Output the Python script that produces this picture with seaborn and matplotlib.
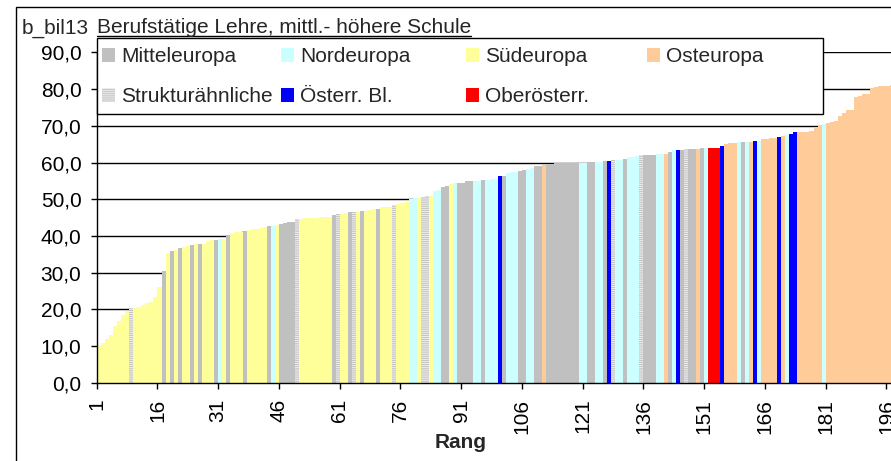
import matplotlib
matplotlib.use("Agg")
import matplotlib.pyplot as plt
from matplotlib.patches import Rectangle
from matplotlib.lines import Line2D
import numpy as np
import pandas as pd
import seaborn as sns

# values per rank (sorted ascending)
values = [
    10.2, 10.8, 11.8, 13.1, 15.5, 16.8, 18.4, 19.5, 20.0, 20.3,
    20.5, 21.3, 21.8, 22.0, 23.4, 26.1, 30.4, 35.4, 36.0, 36.3,
    36.7, 37.0, 37.2, 37.6, 37.7, 37.8, 37.9, 38.6, 38.8, 38.9,
    39.1, 39.2, 40.2, 40.8, 41.1, 41.2, 41.3, 41.7, 41.8, 42.0,
    42.1, 42.4, 42.7, 42.8, 43.0, 43.3, 43.5, 43.7, 43.9, 44.6,
    44.7, 44.8, 44.9, 45.0, 45.0, 45.1, 45.1, 45.2, 45.7, 45.9,
    46.1, 46.2, 46.4, 46.5, 46.6, 46.7, 46.9, 47.2, 47.3, 47.4,
    47.8, 47.9, 48.0, 48.4, 48.7, 49.0, 49.2, 50.2, 50.3, 50.4,
    50.6, 50.8, 50.9, 52.3, 52.5, 53.4, 53.6, 54.2, 54.3, 54.4,
    54.5, 54.9, 55.0, 55.1, 55.1, 55.2, 55.3, 55.4, 55.5, 56.3,
    56.4, 57.2, 57.3, 57.5, 57.8, 57.9, 58.3, 58.5, 59.0, 59.1,
    59.3, 59.6, 59.7, 59.8, 59.9, 59.9, 60.0, 60.0, 60.0, 60.0,
    60.0, 60.1, 60.1, 60.1, 60.2, 60.3, 60.4, 60.6, 60.7, 60.7,
    61.1, 61.5, 61.6, 61.7, 62.0, 62.0, 62.1, 62.1, 62.2, 62.2,
    62.3, 62.8, 63.3, 63.3, 63.4, 63.6, 63.6, 63.6, 63.7, 63.9,
    63.9, 63.9, 63.9, 63.9, 64.4, 65.1, 65.2, 65.3, 65.5, 65.5,
    65.7, 65.7, 65.8, 66.0, 66.3, 66.5, 66.7, 66.8, 67.1, 67.2,
    67.5, 67.7, 68.2, 68.3, 68.4, 68.4, 68.5, 69.8, 70.3, 70.6,
    70.9, 71.0, 71.4, 72.6, 73.5, 74.2, 74.3, 78.0, 78.2, 78.6,
    78.7, 80.4, 80.5, 80.9, 81.0, 81.0, 81.1,
]

# region of each rank as runs (code, number of bars)
region_runs = [
    ("S", 8), ("K", 1), ("S", 7), ("M", 1), ("S", 1), ("M", 1), ("S", 1), ("M", 1),
    ("S", 2), ("M", 1), ("S", 1), ("M", 1), ("S", 3), ("M", 1), ("N", 1), ("S", 1),
    ("M", 1), ("S", 3), ("M", 1), ("S", 5), ("M", 1), ("N", 1), ("S", 1), ("M", 4),
    ("K", 1), ("S", 8), ("M", 1), ("K", 1), ("S", 2), ("M", 1), ("K", 1), ("S", 1),
    ("M", 1), ("S", 3), ("M", 1), ("S", 3), ("K", 1), ("S", 3), ("N", 2), ("S", 1),
    ("K", 2), ("S", 1), ("N", 2), ("M", 2), ("S", 1), ("N", 1), ("M", 4), ("N", 2),
    ("M", 1), ("N", 3), ("A", 1), ("M", 1), ("N", 3), ("M", 2), ("N", 2), ("M", 2),
    ("O", 1), ("M", 8), ("N", 2), ("M", 2), ("N", 2), ("M", 1), ("A", 1), ("K", 1),
    ("N", 2), ("M", 1), ("N", 3), ("K", 1), ("M", 3), ("N", 2), ("O", 1), ("M", 1),
    ("N", 1), ("A", 1), ("M", 1), ("K", 1), ("M", 2), ("O", 1), ("M", 1), ("N", 1),
    ("R", 3), ("A", 1), ("O", 3), ("N", 1), ("M", 1), ("N", 1), ("O", 1), ("A", 1),
    ("N", 1), ("O", 4), ("A", 1), ("O", 1), ("N", 1), ("A", 2), ("O", 6), ("N", 1),
    ("O", 17),
]

hue_order = ["M", "N", "S", "O", "K", "A", "R"]
region_labels = {
    "M": "Mitteleuropa", "N": "Nordeuropa", "S": "Südeuropa", "O": "Osteuropa",
    "K": "Strukturähnliche", "A": "Österr. Bl.", "R": "Oberösterr.",
}
colors = {
    "M": "#c0c0c0", "N": "#ccffff", "S": "#ffff99", "O": "#ffcc99",
    "K": "#c4c4c4", "A": "#0000ff", "R": "#ff0000",
}
legend_rows = [["M", "N", "S", "O"], ["K", "A", "R"]]

title_code = "b_bil13"
title_text = "Berufstätige Lehre, mittl.- höhere Schule"
x_title = "Rang"

regions = [code for code, n in region_runs for _ in range(n)]
df = pd.DataFrame({"rank": range(1, len(values) + 1), "value": values, "region": regions})

sns.set_style("ticks")
plt.rcParams["font.family"] = ["Liberation Sans", "DejaVu Sans"]
plt.rcParams["hatch.linewidth"] = 0.7

W, H = 891, 461
FS = 15


def fx(px):
    return px / W


def fy(py):
    return 1 - py / H


fig = plt.figure(figsize=(W / 100, H / 100), dpi=100)
bar_w = 4.05
x0, y_zero, y_top = 96.7, 382.7, 52.5
ax = fig.add_axes([fx(x0), fy(y_zero), len(values) * bar_w / W, (y_zero - y_top) / H])

sns.barplot(data=df, x="rank", y="value", hue="region", hue_order=hue_order,
            palette=colors, dodge=False, width=1.0, saturation=1, linewidth=0,
            errorbar=None, legend=False, ax=ax)

for p in ax.patches:
    idx = int(round(p.get_x() + p.get_width() / 2))
    p.set_antialiased(False)
    p.set_linewidth(0)
    if 0 <= idx < len(regions) and regions[idx] == "K":
        p.set_hatch("--------")
        p.set_edgecolor("#f0f0f0")

ax.set_xlim(-0.5, len(values) - 0.5)
ax.set_ylim(0, 90)
ax.set_xticks(np.arange(0, len(values), 15) - 0.5)
ax.set_xticklabels([str(r) for r in range(1, len(values) + 1, 15)], rotation=90)
yt = np.arange(0, 91, 10)
ax.set_yticks(yt)
ax.set_yticklabels([f"{v:.1f}".replace(".", ",") for v in yt])
ax.set_xlabel("")
ax.set_ylabel("")
ax.yaxis.grid(True, color="black", linewidth=1)
ax.xaxis.grid(False)
ax.set_axisbelow(True)
for s in ["top", "right"]:
    ax.spines[s].set_visible(False)
for s in ["left", "bottom"]:
    ax.spines[s].set_color("black")
    ax.spines[s].set_linewidth(1)
ax.tick_params(axis="both", direction="out", length=4.5, width=1, color="black",
               labelsize=FS, labelcolor="black")
ax.tick_params(axis="x", pad=7)
ax.tick_params(axis="y", pad=6.5)

# chart frame
fig.add_artist(Rectangle((fx(15.7), -0.2), 2, fy(7) + 0.2, transform=fig.transFigure,
                         fill=False, edgecolor="black", linewidth=1, zorder=0))

# title with underlined description
fig.text(fx(21.7), fy(33.3), title_code, fontsize=FS, va="baseline")
t = fig.text(fx(97), fy(33.3), title_text, fontsize=FS, va="baseline")
fig.canvas.draw()
bb = t.get_window_extent()
fig.add_artist(Line2D([bb.x0 / W, bb.x1 / W], [fy(36.3)] * 2, transform=fig.transFigure,
                      color="black", linewidth=1))

fig.text(fx(460.5), fy(448.3), x_title, fontsize=FS, fontweight="bold",
         ha="center", va="baseline")

# legend box
fig.add_artist(Rectangle((fx(97.3), fy(114)), (822.7 - 97.3) / W, (114 - 38) / H,
                         transform=fig.transFigure, facecolor="white",
                         edgecolor="black", linewidth=1, zorder=5))
col_text_x = [121, 300, 485, 666]
row_base_y = [61.7, 101.7]
for r, row in enumerate(legend_rows):
    for c, code in enumerate(row):
        tx, by = col_text_x[c], row_base_y[r]
        sq = Rectangle((fx(tx - 19), fy(by)), 13 / W, 13.5 / H, transform=fig.transFigure,
                       facecolor=colors[code], linewidth=0, zorder=6, antialiased=False)
        if code == "K":
            sq.set_hatch("--------")
            sq.set_edgecolor("#f0f0f0")
        fig.add_artist(sq)
        fig.text(fx(tx), fy(by), region_labels[code], fontsize=FS, va="baseline", zorder=7)

fig.savefig("out.png", dpi=100)
